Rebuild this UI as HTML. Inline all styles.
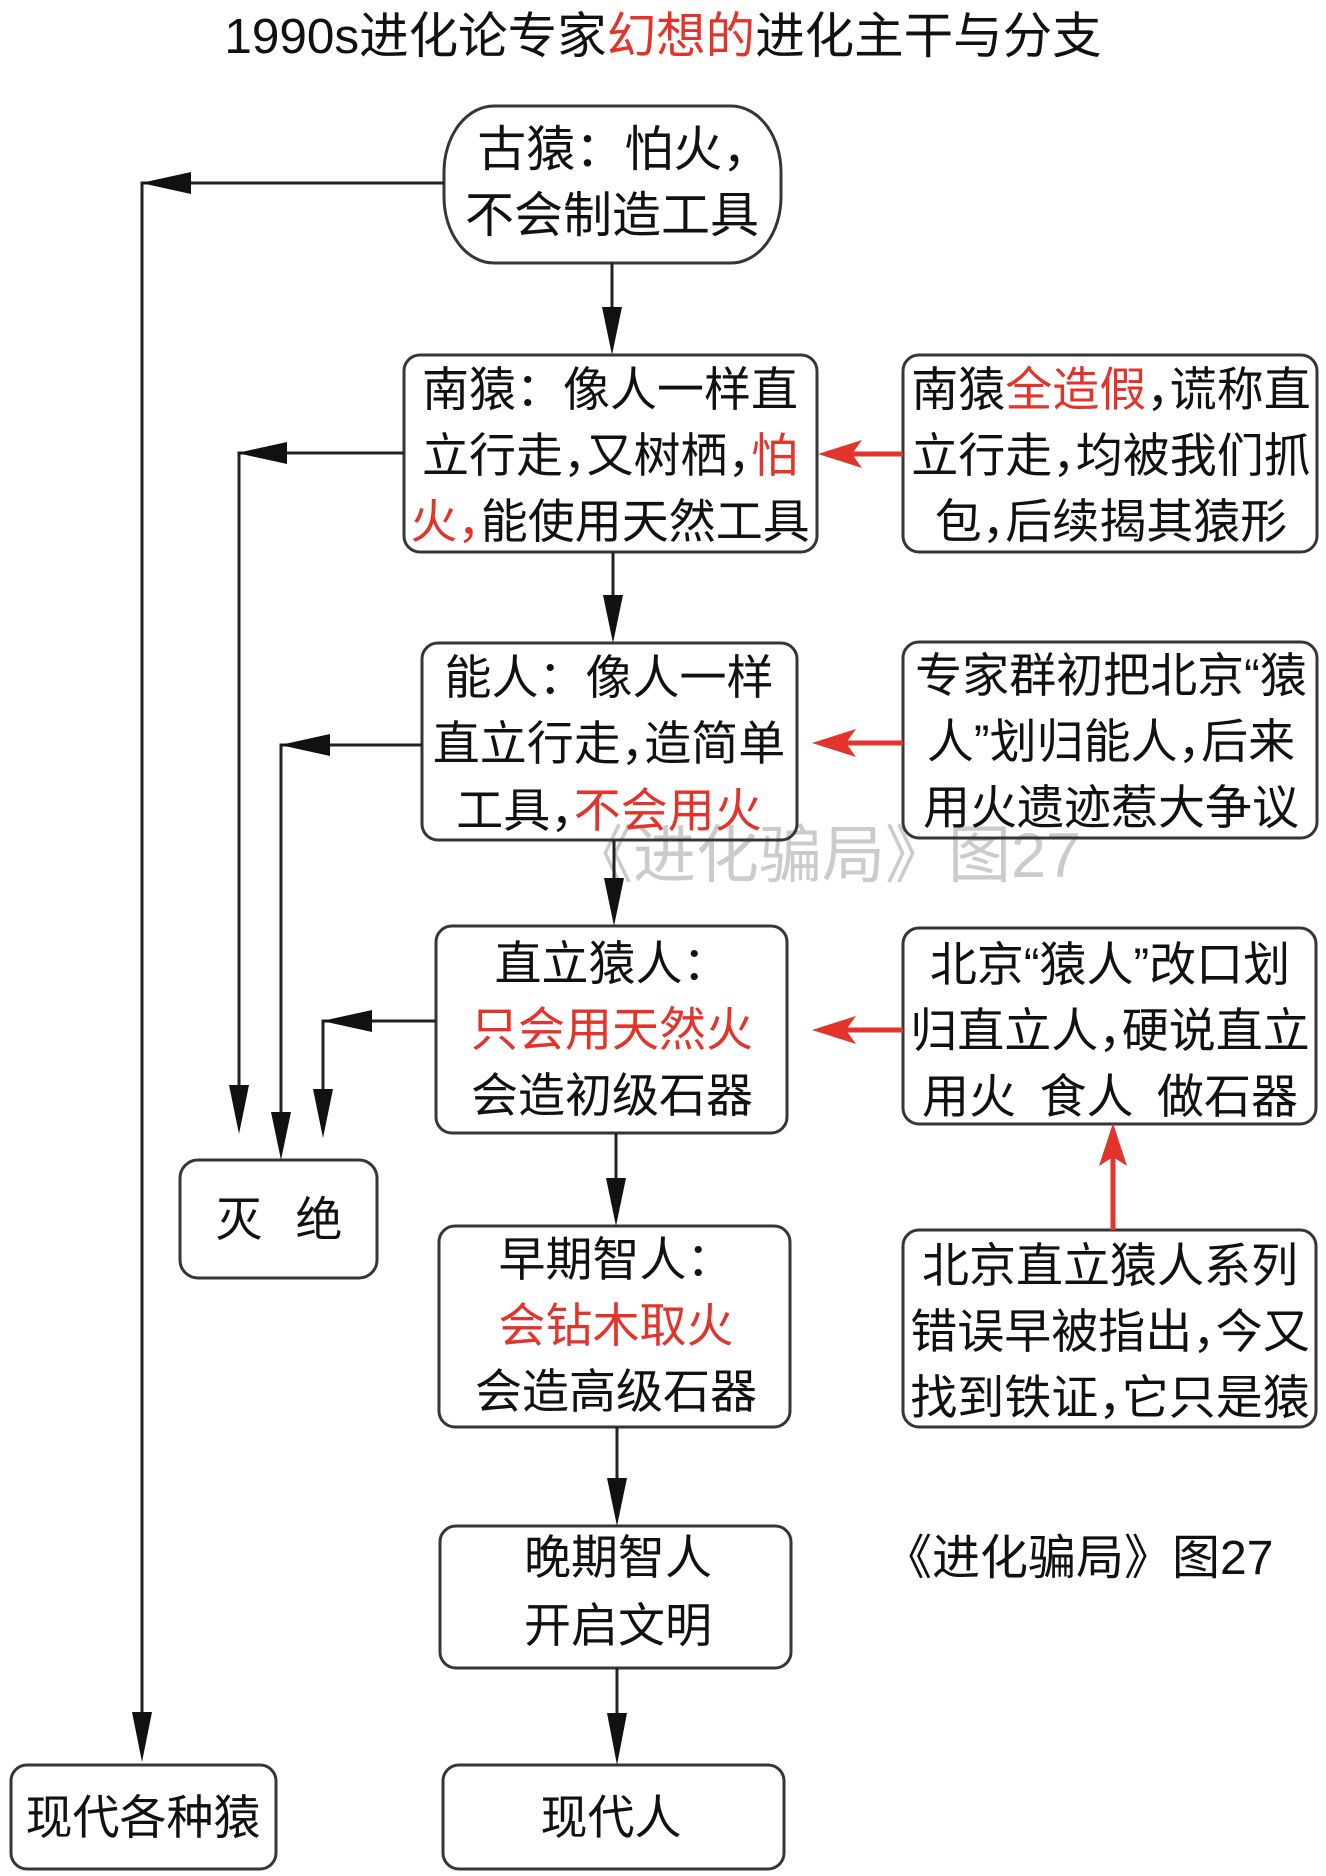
<!DOCTYPE html>
<html><head><meta charset="utf-8">
<style>
html,body{margin:0;padding:0;background:#fff;}
#w{position:relative;width:1326px;height:1876px;overflow:hidden;background:#fff;
font-family:"Liberation Sans","Noto Sans CJK SC",sans-serif;color:#111;}
svg{position:absolute;left:0;top:0;}
.t{position:absolute;width:700px;text-align:center;white-space:nowrap;font-size:47px;line-height:66px;height:66px;}
.r{color:#e2342b;}
.c{letter-spacing:-0.5em;}
.sp{display:inline-block;width:0.5em;}
</style></head><body><div id="w">

<div style="position:absolute;left:570px;top:825px;font-size:63px;line-height:63px;color:#cbcbcb;white-space:nowrap;">《进化骗局》图27</div>

<svg width="1326" height="1876" viewBox="0 0 1326 1876">
<g fill="none" stroke="#363636" stroke-width="3">
<rect x="444" y="106" width="337" height="157" rx="50" ry="66"/>
<rect x="404" y="355" width="413" height="197" rx="16" ry="16"/>
<rect x="903" y="355" width="414" height="197" rx="16" ry="16"/>
<rect x="422" y="643" width="375" height="197" rx="16" ry="16"/>
<rect x="903" y="642" width="414" height="196" rx="16" ry="16"/>
<rect x="436" y="926" width="351" height="207" rx="16" ry="16"/>
<rect x="903" y="928" width="413" height="196" rx="16" ry="16"/>
<rect x="180" y="1160" width="197" height="118" rx="18" ry="18"/>
<rect x="439" y="1226" width="351" height="201" rx="16" ry="16"/>
<rect x="903" y="1230" width="413" height="197" rx="16" ry="16"/>
<rect x="440" y="1526" width="351" height="142" rx="16" ry="16"/>
<rect x="443" y="1765" width="341" height="104" rx="16" ry="16"/>
<rect x="11" y="1765" width="265" height="104" rx="16" ry="16"/>
</g>
<g stroke="#222" stroke-width="3" fill="none">
<line x1="612" y1="263" x2="612" y2="310"/>
<line x1="613" y1="552" x2="613" y2="600"/>
<line x1="614" y1="840" x2="614" y2="880"/>
<line x1="616" y1="1133" x2="616" y2="1180"/>
<line x1="617" y1="1427" x2="617" y2="1480"/>
<line x1="617" y1="1668" x2="617" y2="1720"/>
<polyline points="444,183 142,183 142,1720"/>
<polyline points="404,453 239,453 239,1090"/>
<polyline points="422,745 281,745 281,1115"/>
<polyline points="436,1021 323,1021 323,1095"/>
</g>
<g fill="#111">
<polygon points="612,355 602,307 622,307"/>
<polygon points="613,643 603,595 623,595"/>
<polygon points="614,926 604,878 624,878"/>
<polygon points="616,1226 606,1178 626,1178"/>
<polygon points="617,1526 607,1478 627,1478"/>
<polygon points="617,1765 607,1713 627,1713"/>
<polygon points="141,183 191,172 191,194"/>
<polygon points="142,1762 132,1712 152,1712"/>
<polygon points="237,453 287,442 287,464"/>
<polygon points="239,1134 229,1085 249,1085"/>
<polygon points="280,745 330,734 330,756"/>
<polygon points="281,1160 271,1112 291,1112"/>
<polygon points="322,1021 372,1010 372,1032"/>
<polygon points="323,1138 313,1089 333,1089"/>
</g>
<g stroke="#e2342b" stroke-width="5" fill="none">
<line x1="850" y1="454" x2="903" y2="454"/>
<line x1="844" y1="743" x2="903" y2="743"/>
<line x1="844" y1="1030" x2="903" y2="1030"/>
<line x1="1113" y1="1155" x2="1113" y2="1230"/>
</g>
<g fill="#e2342b">
<polygon points="818,454 862,440 852,454 862,468"/>
<polygon points="812,743 856,729 846,743 856,757"/>
<polygon points="812,1030 856,1016 846,1030 856,1044"/>
<polygon points="1113,1123 1127,1166 1113,1157 1099,1166"/>
</g>
</svg>

<!-- title -->
<div style="position:absolute;left:0;width:1326px;top:4px;text-align:center;white-space:nowrap;font-size:49.5px;line-height:66px;">1990s进化论专家<span class="r">幻想的</span>进化主干与分支</div>

<!-- box1 -->
<div class="t" style="left:262px;top:117px;font-size:49px;">古猿：怕火<span class="c">，</span></div>
<div class="t" style="left:262px;top:183px;font-size:49px;">不会制造工具</div>

<!-- box2 -->
<div class="t" style="left:260px;top:357px;">南猿：像人一样直</div>
<div class="t" style="left:260px;top:423px;">立行走<span class="c">，</span>又树栖<span class="c">，</span><span class="r">怕</span></div>
<div class="t" style="left:260px;top:489px;"><span class="r">火<span class="c">，</span></span>能使用天然工具</div>

<!-- R1 -->
<div class="t" style="left:761px;top:357px;">南猿<span class="r">全造假</span><span class="c">，</span>谎称直</div>
<div class="t" style="left:761px;top:423px;">立行走<span class="c">，</span>均被我们抓</div>
<div class="t" style="left:761px;top:489px;">包<span class="c">，</span>后续揭其猿形</div>

<!-- box3 -->
<div class="t" style="left:259px;top:645px;">能人：像人一样</div>
<div class="t" style="left:259px;top:711px;">直立行走<span class="c">，</span>造简单</div>
<div class="t" style="left:259px;top:778px;">工具<span class="c">，</span><span class="r">不会用火</span></div>

<!-- R2 -->
<div class="t" style="left:761px;top:643px;">专家群初把北京“猿</div>
<div class="t" style="left:761px;top:709px;">人”划归能人<span class="c">，</span>后来</div>
<div class="t" style="left:761px;top:775px;">用火遗迹惹大争议</div>

<!-- box4 -->
<div class="t" style="left:262px;top:931px;">直立猿人：</div>
<div class="t r" style="left:262px;top:997px;">只会用天然火</div>
<div class="t" style="left:262px;top:1063px;">会造初级石器</div>

<!-- R3 -->
<div class="t" style="left:760px;top:932px;">北京“猿人”改口划</div>
<div class="t" style="left:760px;top:998px;">归直立人<span class="c">，</span>硬说直立</div>
<div class="t" style="left:760px;top:1064px;">用火<span class="sp"></span>食人<span class="sp"></span>做石器</div>

<!-- extinct -->
<div class="t" style="left:-71px;top:1187px;">灭<span style="display:inline-block;width:33px"></span>绝</div>

<!-- box5 -->
<div class="t" style="left:266px;top:1227px;">早期智人：</div>
<div class="t r" style="left:266px;top:1293px;">会钻木取火</div>
<div class="t" style="left:266px;top:1359px;">会造高级石器</div>

<!-- R4 -->
<div class="t" style="left:760px;top:1233px;">北京直立猿人系列</div>
<div class="t" style="left:760px;top:1299px;">错误早被指出<span class="c">，</span>今又</div>
<div class="t" style="left:760px;top:1365px;">找到铁证<span class="c">，</span>它只是猿</div>

<!-- caption -->
<div style="position:absolute;left:884px;top:1526px;font-size:48px;line-height:66px;white-space:nowrap;">《进化骗局》图27</div>

<!-- box6 -->
<div class="t" style="left:268px;top:1525px;">晚期智人</div>
<div class="t" style="left:268px;top:1593px;">开启文明</div>

<!-- box7 -->
<div class="t" style="left:261px;top:1785px;">现代人</div>

<!-- apes -->
<div class="t" style="left:-207px;top:1785px;">现代各种猿</div>

</div></body></html>
